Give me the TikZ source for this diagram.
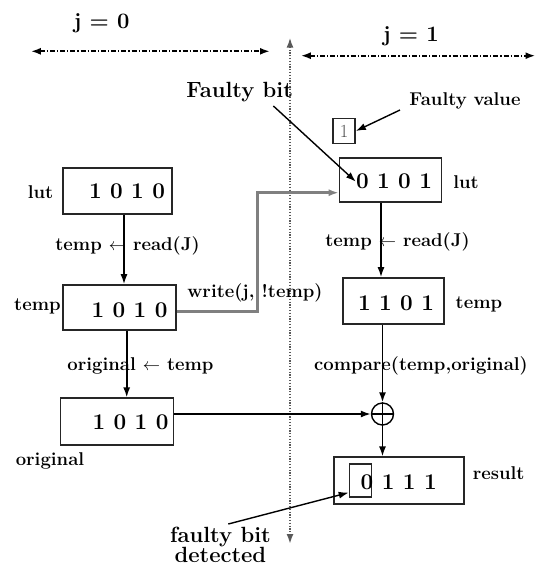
\documentclass[tikz,border=0pt]{standalone}
\usetikzlibrary{arrows.meta}
\begin{document}
\begin{tikzpicture}[x=1pt,y=-1pt,
  >={Latex[length=10pt,width=7pt]},
  lbl/.style={font=\fontsize{18.5}{22}\selectfont\bfseries, inner sep=0pt},
  biglbl/.style={font=\fontsize{22}{20.5}\selectfont\bfseries, inner sep=0pt, align=center},
  bits/.style={font=\fontsize{22.5}{26}\selectfont\bfseries, inner sep=0pt},
  regbox/.style={draw=black!85, line width=1.6pt, inner sep=0pt},
  conn/.style={line width=1.6pt, ->},
  wconn/.style={black!50, line width=2.6pt, ->},
  rangearrow/.style={line width=2pt, dash pattern=on 5pt off 2pt on 1.2pt off 2pt, <->},
  divider/.style={black!65, line width=1.8pt, dash pattern=on 1.2pt off 1.6pt, <->},
]
\useasboundingbox (0,0) rectangle (536,566);

% iteration ranges
\coordinate (vt) at (290,37.6);
\coordinate (vb) at (290,544);
\draw[divider] (vt) -- (vb);
\node[biglbl] (j0) at (101.7,23) {j = 0};
\node[biglbl] (j1) at (411,36) {j = 1};
\coordinate (r0a) at (30.8,51.3);
\coordinate (r0b) at (270,51.3);
\coordinate (r1a) at (300.8,55.7);
\coordinate (r1b) at (535.5,55.7);
\draw[rangearrow] (r0a) -- (r0b);
\draw[rangearrow] (r1a) -- (r1b);

% left column (j = 0)
\node[regbox, minimum width=109pt, minimum height=46pt] (lutL) at (117.5,191) {};
\node[bits] (lutLt) at (127,191.7) {1~0~1~0};
\node[lbl] (lutLl) at (40.5,192) {lut};

\node[regbox, minimum width=113pt, minimum height=45pt] (tempL) at (119.5,307.5) {};
\node[bits] (tempLt) at (129.5,310) {1~0~1~0};
\node[lbl] (tempLl) at (37.5,306.7) {temp};

\node[regbox, minimum width=113pt, minimum height=47pt] (origL) at (117,421.7) {};
\node[bits] (origLt) at (130.5,422.7) {1~0~1~0};
\node[lbl] (origLl) at (50,461) {original};

\coordinate (xa) at (124,0);
\coordinate (xb) at (126.7,0);
\draw[conn] (lutL.south -| xa) -- (tempL.north -| xa);
\node[lbl] (rdL) at (127.5,246) {temp $\leftarrow$ read(J)};
\draw[conn] (tempL.south -| xb) -- (origL.north -| xb);
\node[lbl] (cpL) at (140.5,366) {original $\leftarrow$ temp};

% right column (j = 1)
\node[regbox, minimum width=102pt, minimum height=44pt] (lutR) at (390.5,180) {};
\node[bits] (lutRt) at (394,181.7) {0~1~0~1};
\node[lbl] (lutRl) at (466,181.7) {lut};

\node[regbox, minimum width=101pt, minimum height=46pt] (tempR) at (393.5,301) {};
\node[bits] (tempRt) at (396,303) {1~1~0~1};
\node[lbl] (tempRl) at (479,304) {temp};

\node[draw, circle, line width=1.4pt, minimum size=22pt, inner sep=0pt] (xor) at (382.5,414) {};
\draw[line width=1.4pt] (xor.north) -- (xor.south) (xor.west) -- (xor.east);

\node[regbox, minimum width=130pt, minimum height=47pt] (res) at (399,480.7) {};
\node[regbox, minimum width=22pt, minimum height=33pt] (inbox) at (360.5,480.3) {};
\node[bits] (rest) at (398.7,482.7) {0~1~1~1};
\node[lbl] (resl) at (498.7,473.3) {result};

\coordinate (xc) at (381,0);
\draw[conn] (lutR.south -| xc) -- (tempR.north -| xc);
\node[lbl] (rdR) at (397.5,241.7) {temp $\leftarrow$ read(J)};
\draw[conn] (tempR.south -| xor.north) -- (xor.north);
\node[lbl] (cmpR) at (421,366) {compare(temp,original)};
\draw[conn] (origL.east |- xor.west) -- (xor.west);
\draw[conn] (xor.south) -- (res.north -| xor.south);

% write back
\coordinate (w1) at (257.3,311.7);
\coordinate (w2) at (257.3,192.7);
\draw[wconn] (tempL.east |- w1) -- (w1) -- (w2) -- (lutR.west |- w2);
\node[lbl] (wr) at (255,292.7) {write(j, !temp)};

% faulty annotations
\node[biglbl] (fbit) at (239.6,92) {Faulty bit};
\coordinate (fbs) at (273.4,106);
\draw[line width=1.4pt, ->] (fbs) -- (lutRt.west);

\node[lbl] (fval) at (465,100.8) {Faulty value};
\node[regbox, minimum width=22pt, minimum height=25pt] (fvbox) at (344,131) {};
\node[font=\fontsize{18.5}{22}\selectfont, text=black!70, inner sep=0pt] (fvone) at (344,131) {1};
\coordinate (fvs) at (400,110);
\draw[line width=1.4pt, ->] (fvs) -- (fvbox.east);

\node[biglbl] (fbd) at (220.4,545) {faulty bit\\detected};
\coordinate (fds) at (228.3,524);
\draw[line width=1.4pt, ->] (fds) -- ([yshift=5pt]inbox.south west);
\end{tikzpicture}
\end{document}
